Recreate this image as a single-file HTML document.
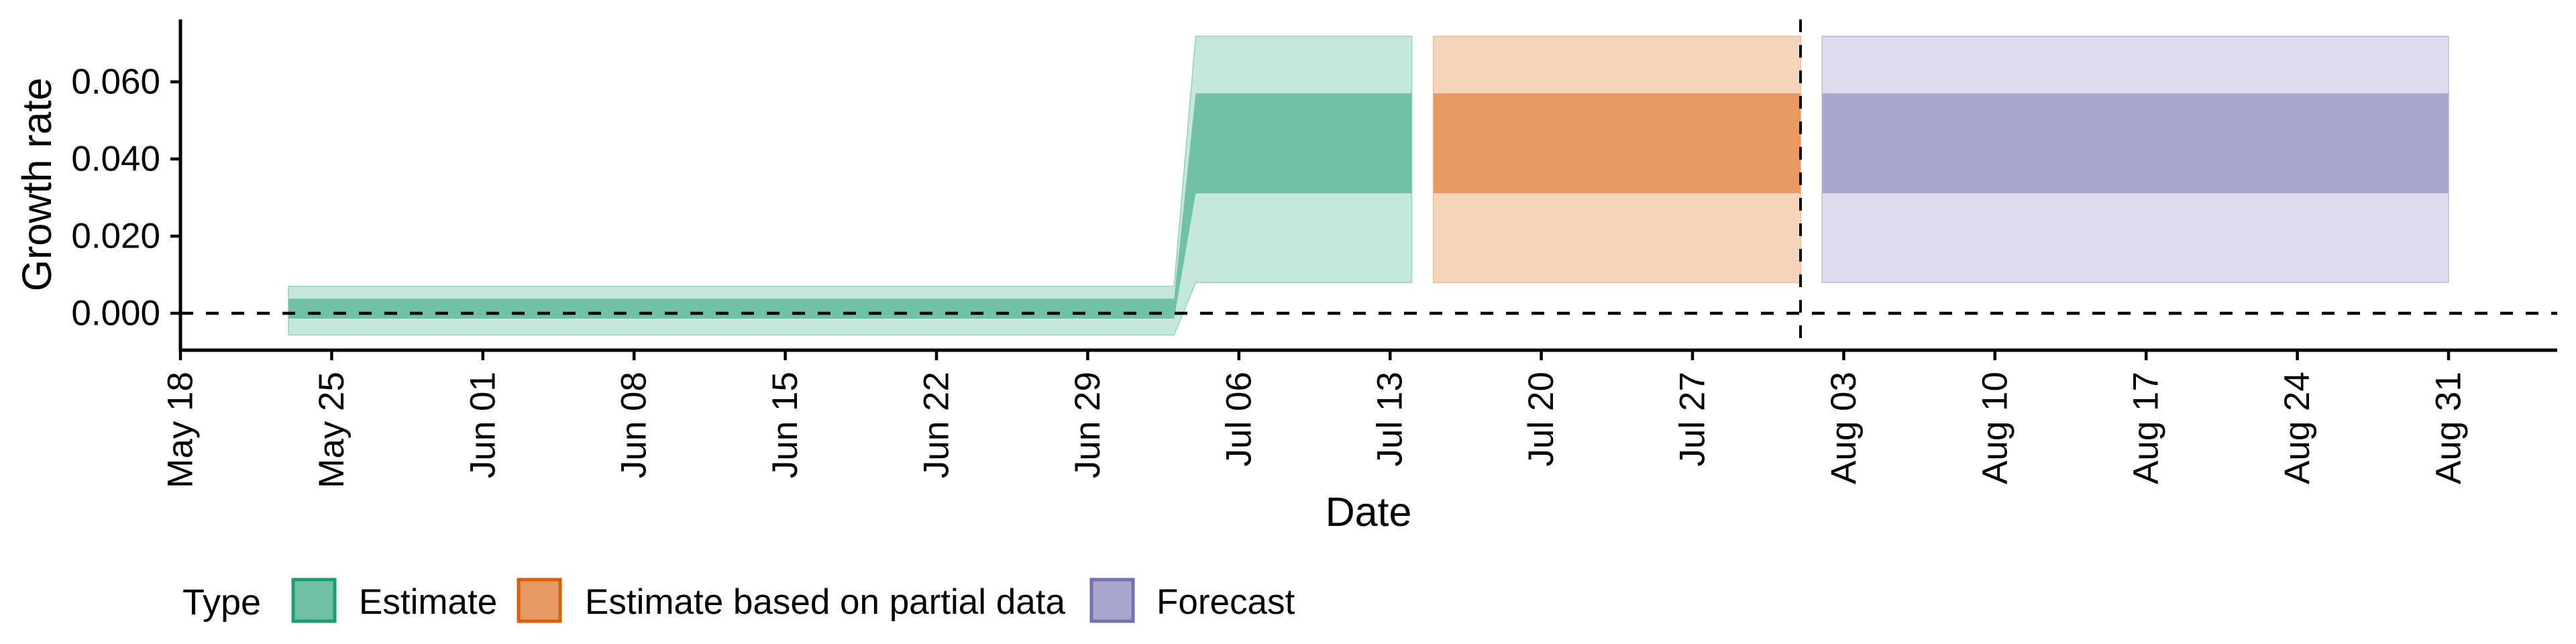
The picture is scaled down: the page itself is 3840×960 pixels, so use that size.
<!DOCTYPE html>
<html><head><meta charset="utf-8"><style>
html,body{margin:0;padding:0;background:#fff;}
svg{display:block;font-family:"Liberation Sans",sans-serif;}
</style></head><body>
<svg id="chart" width="3840" height="960" viewBox="0 0 3840 960">
  <g id="bands"></g>
  <g id="axes"></g>
  <text x="55" y="275" font-size="61" text-anchor="middle" dominant-baseline="central" transform="rotate(-90 55 275)">Growth rate</text>
  <text x="2040" y="784" font-size="61" text-anchor="middle">Date</text>
  <g>
    <text x="272" y="916" font-size="54">Type</text>
    <rect x="437" y="864" width="62" height="62" fill="#70c1a8" stroke="#1b9e77" stroke-width="5"/>
    <text x="535" y="915" font-size="53">Estimate</text>
    <rect x="773" y="864" width="62" height="62" fill="#e69a61" stroke="#d95f02" stroke-width="5"/>
    <text x="872" y="915" font-size="53">Estimate based on partial data</text>
    <rect x="1627" y="864" width="62" height="62" fill="#a8a6cf" stroke="#7570b3" stroke-width="5"/>
    <text x="1724" y="915" font-size="53">Forecast</text>
  </g>
</svg>
<script>
const estDates = ['2020-05-23','2020-07-03','2020-07-04','2020-07-14'];
const estLo90 = [-0.0056,-0.0056,0.0080,0.0080];
const estHi90 = [0.0070,0.0070,0.0718,0.0718];
const estLo50 = [-0.0014,-0.0014,0.0311,0.0311];
const estHi50 = [0.0038,0.0038,0.0570,0.0570];
const parDates = ['2020-07-15','2020-08-01'];
const parLo90 = [0.0080,0.0080];
const parHi90 = [0.0718,0.0718];
const parLo50 = [0.0311,0.0311];
const parHi50 = [0.0570,0.0570];
const fcDates = ['2020-08-02','2020-08-31'];
const fcLo90 = [0.0080,0.0080];
const fcHi90 = [0.0718,0.0718];
const fcLo50 = [0.0311,0.0311];
const fcHi50 = [0.0570,0.0570];
const xTickLabels = ['May 18','May 25','Jun 01','Jun 08','Jun 15','Jun 22','Jun 29','Jul 06','Jul 13','Jul 20','Jul 27','Aug 03','Aug 10','Aug 17','Aug 24','Aug 31'];
const yTicks = [0,0.02,0.04,0.06];
const yTickLabels = ['0.000','0.020','0.040','0.060'];
const vlineDate = '2020-08-01';

const NS='http://www.w3.org/2000/svg';
const X0=269, X1=3812, YT=29, YB=522;
const t0=Date.UTC(2020,4,18);
function days(s){const p=s.split('-');return (Date.UTC(+p[0],+p[1]-1,+p[2])-t0)/86400000;}
function xs(s){return X0+days(s)*32.2;}
function ys(v){return 467-5750*v;}
function el(tag,attrs,parent){const e=document.createElementNS(NS,tag);for(const k in attrs)e.setAttribute(k,attrs[k]);parent.appendChild(e);return e;}
const bands=document.getElementById('bands'), axes=document.getElementById('axes');
function ribbon(d,lo,hi,fill,stroke,name){
  let pts=d.map((s,i)=>xs(s)+','+ys(hi[i]));
  for(let i=d.length-1;i>=0;i--)pts.push(xs(d[i])+','+ys(lo[i]));
  const p=el('polygon',{points:pts.join(' '),fill:fill,stroke:stroke,'stroke-width':stroke==='none'?0:1.5},bands);
  
  
}
ribbon(estDates,estLo90,estHi90,'#c6e7dd','#8fd3bd','estimate-90-band');
ribbon(estDates,estLo50,estHi50,'#70c1a8','none','estimate-50-band');
ribbon(parDates,parLo90,parHi90,'#f5d6bd','#f0b98f','partial-90-band');
ribbon(parDates,parLo50,parHi50,'#e69a61','none','partial-50-band');
ribbon(fcDates,fcLo90,fcHi90,'#dcdbeb','#bdbadb','forecast-90-band');
ribbon(fcDates,fcLo50,fcHi50,'#a8a6cf','none','forecast-50-band');
const z=el('line',{x1:X0,x2:X1,y1:ys(0),y2:ys(0),stroke:'#000','stroke-width':4.5,'stroke-dasharray':'19,19'},axes);


const vx=xs(vlineDate);
const v=el('line',{x1:vx,x2:vx,y1:YT,y2:YB,stroke:'#000','stroke-width':4,'stroke-dasharray':'19,19'},axes);


const ya=el('line',{x1:X0,x2:X0,y1:YT,y2:YB+2,stroke:'#000','stroke-width':5},axes);


const xa=el('line',{x1:X0-2,x2:X1,y1:YB,y2:YB,stroke:'#000','stroke-width':5},axes);


yTicks.forEach((t,i)=>{
  const y=ys(t);
  el('line',{x1:X0-15,x2:X0,y1:y,y2:y,stroke:'#000','stroke-width':4.5},axes);
  const tx=el('text',{x:239,y:y,'font-size':53,'text-anchor':'end','dominant-baseline':'central'},axes);
  tx.textContent=yTickLabels[i];
  
  
});
xTickLabels.forEach((lab,i)=>{
  const x=X0+i*7*32.2;
  el('line',{x1:x,x2:x,y1:YB,y2:YB+15,stroke:'#000','stroke-width':4.5},axes);
  const tx=el('text',{x:x,y:554,'font-size':53,'text-anchor':'end','dominant-baseline':'central',transform:'rotate(-90 '+x+' 554)'},axes);
  tx.textContent=lab;
  
  
});
</script>
</body></html>
